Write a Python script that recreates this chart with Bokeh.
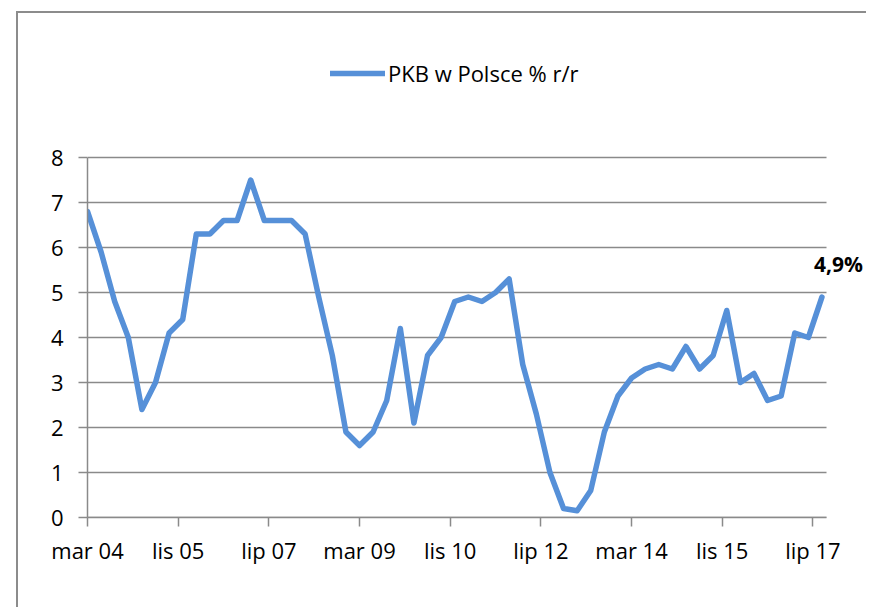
from bokeh.plotting import figure
from bokeh.models import Range1d, FixedTicker, Legend, LegendItem, Label, InlineStyleSheet
from bokeh.embed import file_html
from bokeh.resources import INLINE

# ---- data ----
start_year = 2004
quarter_end_months = [3, 6, 9, 12]
years = list(range(2004, 2018))
gdp = [
    6.8, 5.9, 4.8, 4.0,   # 2004
    2.4, 3.0, 4.1, 4.4,   # 2005
    6.3, 6.3, 6.6, 6.6,   # 2006
    7.5, 6.6, 6.6, 6.6,   # 2007
    6.3, 4.9, 3.6, 1.9,   # 2008
    1.6, 1.9, 2.6, 4.2,   # 2009
    2.1, 3.6, 4.0, 4.8,   # 2010
    4.9, 4.8, 5.0, 5.3,   # 2011
    3.4, 2.3, 1.0, 0.2,   # 2012
    0.15, 0.6, 1.9, 2.7,  # 2013
    3.1, 3.3, 3.4, 3.3,   # 2014
    3.8, 3.3, 3.6, 4.6,   # 2015
    3.0, 3.2, 2.6, 2.7,   # 2016
    4.1, 4.0, 4.9,        # 2017
]
tick_months = [0, 20, 40, 60, 80, 100, 120, 140, 160]
tick_labels = ["mar 04", "lis 05", "lip 07", "mar 09", "lis 10",
               "lip 12", "mar 14", "lis 15", "lip 17"]
y_ticks = [0, 1, 2, 3, 4, 5, 6, 7, 8]
axis_x_min, axis_x_max = 0, 163     # months since mar 04 covered by the axis
axis_y_min, axis_y_max = 0, 8
series_name = "PKB w Polsce % r/r"

# months since March 2004 for each quarter end
x_months = []
for y in years:
    for m in quarter_end_months:
        if len(x_months) < len(gdp):
            x_months.append((y - start_year) * 12 + (m - 3))

# ---- layout ----
W, H = 866, 607
LEFT, BOTTOM = 87, 90          # space for the axes
PX_PER_MONTH = 739 / (axis_x_max - axis_x_min)
PX_PER_UNIT = 360 / (axis_y_max - axis_y_min)
frame_w = W - LEFT
frame_h = H - BOTTOM

FONT = "Open Sans"
GRID = "#8a8a8a"
BLUE = "#5690d8"

p = figure(width=W, height=H, output_backend="svg", toolbar_location=None,
           x_range=Range1d(axis_x_min, axis_x_min + frame_w / PX_PER_MONTH),
           y_range=Range1d(axis_y_min, axis_y_min + frame_h / PX_PER_UNIT),
           min_border_left=LEFT, min_border_right=0,
           min_border_top=0, min_border_bottom=BOTTOM)
p.outline_line_color = None
p.background_fill_color = "white"
p.border_fill_color = "white"
p.xgrid.visible = False
p.ygrid.visible = False

# horizontal gridlines spanning the axis extent
p.segment(x0=[axis_x_min] * len(y_ticks), x1=[axis_x_max] * len(y_ticks),
          y0=y_ticks, y1=y_ticks, line_color=GRID, line_width=1.5)

r = p.line(x_months, gdp, line_color=BLUE, line_width=5.5,
           line_join="round", line_cap="round")

# axes
p.xaxis.ticker = FixedTicker(ticks=tick_months)
p.xaxis.major_label_overrides = {t: l for t, l in zip(tick_months, tick_labels)}
p.xaxis.bounds = (axis_x_min, axis_x_max)
p.yaxis.ticker = FixedTicker(ticks=y_ticks)
p.yaxis.bounds = (axis_y_min, axis_y_max)
for ax in (p.xaxis[0], p.yaxis[0]):
    ax.axis_line_color = GRID
    ax.axis_line_width = 1.5
    ax.major_tick_line_color = GRID
    ax.major_tick_line_width = 1.5
    ax.major_tick_in = 0
    ax.major_tick_out = 9
    ax.minor_tick_line_color = None
    ax.major_label_text_font = FONT
    ax.major_label_text_font_size = "22px"
    ax.major_label_text_color = "black"
p.xaxis.major_label_standoff = 8
p.yaxis.major_label_standoff = 15

# legend above the plot area
legend = Legend(items=[LegendItem(label=series_name, renderers=[r])],
                location=(243, 429), orientation="horizontal",
                padding=0, margin=0, spacing=0,
                glyph_width=55, glyph_height=30, label_height=30,
                label_standoff=3,
                label_text_font=FONT, label_text_font_size="22px",
                label_text_color="black",
                border_line_color=None, background_fill_alpha=0)
p.add_layout(legend, "center")

# last-value annotation
last_label = Label(x=x_months[-1], y=gdp[-1], x_offset=-8, y_offset=33,
                   text=f"{gdp[-1]:.1f}%".replace(".", ","),
                   text_font=FONT, text_font_size="21px", text_font_style="bold",
                   text_color="black", text_baseline="middle", text_align="left")
p.add_layout(last_label)

# chart-area border (left and top edges visible; right/bottom run off the page)
p.stylesheets = [InlineStyleSheet(css=(
    ":host{overflow:hidden;}"
    ":host::after{content:'';position:absolute;left:16px;top:11px;"
    "width:calc(100% + 40px);height:calc(100% + 40px);box-sizing:border-box;"
    "border:2px solid #8c8c8c;"
    "pointer-events:none;z-index:10;}"))]

open("out.html", "w").write(file_html(p, INLINE))
